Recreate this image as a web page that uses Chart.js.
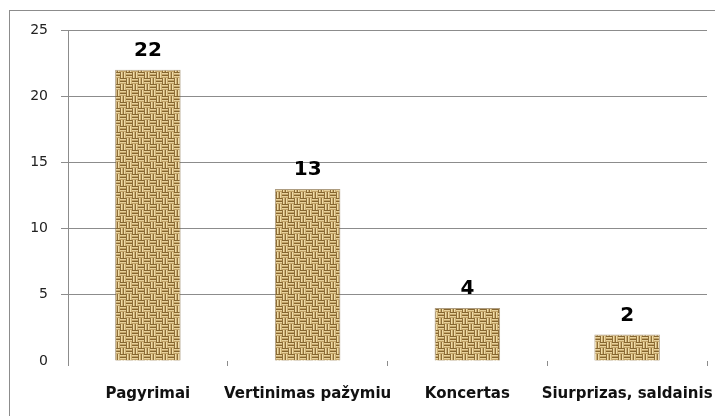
<!DOCTYPE html>
<html>
<head>
<meta charset="utf-8">
<script src="https://cdn.jsdelivr.net/npm/chart.js@4.4.1/dist/chart.umd.min.js"></script>
<style>
  html, body { margin: 0; padding: 0; background: #fff; }
  #wrap { width: 715px; height: 416px; }
</style>
</head>
<body>
<div id="wrap"><canvas id="chart" width="715" height="416"></canvas></div>
<script>
// chart data
var categories = ['Pagyrimai', 'Vertinimas pažymiu', 'Koncertas', 'Siurprizas, saldainis'];
var counts = [22, 13, 4, 2];
var yTicks = [0, 5, 10, 15, 20, 25];

// burlap-ish basket weave texture for the bars
function makeBurlap() {
    var c = document.createElement('canvas');
    c.width = 24; c.height = 24;
    var g = c.getContext('2d');
    for (var y = 0; y < 24; y++) {
        for (var x = 0; x < 24; x++) {
            var tx = Math.floor(x / 3), ty = Math.floor(y / 3);
            var vertOnTop = ((Math.floor(tx / 2) + Math.floor(ty / 2)) % 2) === 0;
            var col;
            if (vertOnTop) col = ['#8f6e38', '#efdca8', '#cdb074'][x % 3];
            else col = ['#86662f', '#e8d29c', '#c3a468'][y % 3];
            g.fillStyle = col;
            g.fillRect(x, y, 1, 1);
        }
    }
    return g.createPattern(c, 'repeat');
}

var frame = {
    id: 'frame',
    beforeDraw: function (chart) {
        var ctx = chart.ctx;
        ctx.save();
        ctx.fillStyle = '#fff';
        ctx.fillRect(0, 0, chart.width, chart.height);
        ctx.strokeStyle = '#8c8c8c';
        ctx.lineWidth = 1;
        ctx.strokeRect(9.5, 10.5, 740, 440);
        ctx.restore();
    }
};

var valueLabels = {
    id: 'valueLabels',
    afterDatasetsDraw: function (chart) {
        var ctx = chart.ctx;
        var meta = chart.getDatasetMeta(0);
        ctx.save();
        ctx.font = 'bold 20px "DejaVu Sans"';
        ctx.fillStyle = '#000';
        ctx.textAlign = 'center';
        ctx.textBaseline = 'alphabetic';
        meta.data.forEach(function (bar, i) {
            ctx.fillText(String(counts[i]), bar.x, bar.y - 14);
        });
        ctx.restore();
    }
};

var ctx = document.getElementById('chart').getContext('2d');
var chartObj = new Chart(ctx, {
    type: 'bar',
    data: {
        labels: categories,
        datasets: [{
            data: counts,
            backgroundColor: makeBurlap(),
            borderColor: 'rgba(120,92,45,0.6)',
            borderWidth: 1,
            barPercentage: 0.41,
            categoryPercentage: 1.0
        }]
    },
    options: {
        responsive: false,
        animation: false,
        events: [],
        layout: { padding: { left: 0, top: 30, right: 8, bottom: 0 } },
        plugins: { legend: { display: false }, tooltip: { enabled: false } },
        scales: {
            x: {
                grid: {
                    offset: true,
                    drawOnChartArea: false,
                    drawTicks: true,
                    tickLength: 5,
                    color: '#8c8c8c'
                },
                border: { display: false },
                ticks: {
                    color: '#111',
                    padding: 19,
                    maxRotation: 0,
                    autoSkip: false,
                    font: { family: '"DejaVu Sans"', size: 15, weight: 'bold' }
                },
                afterFit: function (s) {
                    s.height = 55;
                    s.paddingLeft = 0;
                    s.paddingRight = 0;
                }
            },
            y: {
                min: 0,
                max: 25,
                afterBuildTicks: function (s) {
                    s.ticks = yTicks.map(function (v) { return { value: v }; });
                },
                grid: {
                    color: function (c) { return c.tick && c.tick.value === 0 ? 'rgba(0,0,0,0)' : '#8c8c8c'; },
                    tickLength: 7
                },
                border: { display: true, color: '#8c8c8c' },
                ticks: {
                    color: '#222',
                    padding: 13,
                    font: { family: '"DejaVu Sans"', size: 14 }
                },
                afterFit: function (s) { s.width = 68; }
            }
        }
    },
    plugins: [frame, valueLabels]
});
</script>
</body>
</html>
